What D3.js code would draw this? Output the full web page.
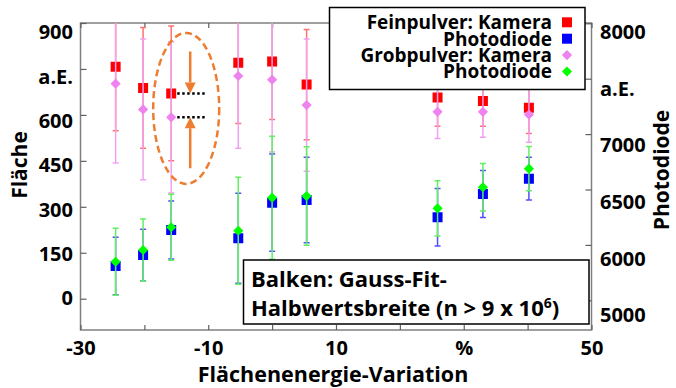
<!DOCTYPE html>
<html>
<head>
<meta charset="utf-8">
<script src="https://cdn.jsdelivr.net/npm/d3@7"></script>
<style>
  body { margin: 0; background: #fff; }
  svg text { font-family: "Open Sans", Lato, sans-serif; font-weight: bold; fill: #000; }
</style>
</head>
<body>
<div id="chart"></div>
<script>
// x positions (Flächenenergie-Variation, %)
var xValues = [-24.5, -20.2, -15.8, -5.3, 0.0, 5.4, 25.9, 33.0, 40.2];

// Feinpulver
var feinKamera    = [757, 688, 670, 770, 774, 699, 657, 645, 623];
var feinKameraErr = [209, 197, 220, 198, 189, 180, 94, 82, 84];
var feinPhoto     = [5810, 5909, 6135, 6060, 6381, 6405, 6249, 6459, 6598];
var feinPhotoErr  = [260, 232, 262, 406, 439, 385, 260, 212, 193];

// Grobpulver
var grobKamera    = [702, 618, 592, 727, 715, 632, 610, 610, 601];
var grobKameraErr = [259, 230, 247, 236, 236, 216, 87, 83, 90];
var grobPhoto     = [5848, 5954, 6159, 6128, 6426, 6441, 6330, 6520, 6688];
var grobPhotoErr  = [302, 280, 298, 483, 555, 444, 250, 214, 199];

// ticks
var xTicks = [-30, -20, -10, 0, 10, 20, 30, 40, 50];
var xTickLabels = ["-30", "", "-10", "", "10", "", "%", "", "50"];
var leftTicks = [900, 750, 600, 450, 300, 150, 0];
var leftTickLabels = ["900", "a.E.", "600", "450", "300", "150", "0"];
var rightTicks = [8000, 7500, 7000, 6500, 6000, 5500];
var rightTickLabels = ["8000", "a.E.", "7000", "6500", "6000", "5000"];

var width = 676, height = 388;
var margin = { top: 23, right: 84.5, bottom: 58, left: 80.5 };
var x0 = margin.left, x1 = width - margin.right, y0 = margin.top, y1 = height - margin.bottom;

var svg = d3.select("#chart").append("svg")
  .attr("width", width)
  .attr("height", height);

var x = d3.scaleLinear().domain([-30, 50]).range([x0, x1]);
var yL = d3.scaleLinear().domain([0, 900]).range([298.7, 23]);
var yR = d3.scaleLinear().domain([5500, 8000]).range([300.3, 23.3]);
// tick labels sit a little off the tick marks in the original
var yLabL = d3.scaleLinear().domain([0, 900]).range([298, 32]);
var yLabR = d3.scaleLinear().domain([5500, 8000]).range([315, 31.7]);

svg.append("clipPath").attr("id", "plotclip")
  .append("rect")
  .attr("x", x0).attr("y", y0)
  .attr("width", x1 - x0).attr("height", y1 - y0);

// frame
svg.append("rect")
  .attr("x", x0).attr("y", y0)
  .attr("width", x1 - x0).attr("height", y1 - y0)
  .attr("fill", "none")
  .attr("stroke", "#808080")
  .attr("stroke-width", 1.5);

var tickColor = "#606060";

// bottom axis
var xAxis = svg.append("g")
  .attr("transform", "translate(0," + y1 + ")")
  .call(d3.axisBottom(x).tickValues(xTicks).tickSize(-5).tickPadding(11)
    .tickFormat(function(d, i) { return xTickLabels[i]; }));
xAxis.select(".domain").remove();
xAxis.selectAll("line").attr("stroke", tickColor).attr("stroke-width", 1.2);
xAxis.selectAll("text").style("font-size", "20px").attr("font-family", null);

// top mirror ticks
var xTop = svg.append("g")
  .attr("transform", "translate(0," + y0 + ")")
  .call(d3.axisTop(x).tickValues(xTicks).tickSize(-5).tickFormat(""));
xTop.select(".domain").remove();
xTop.selectAll("line").attr("stroke", tickColor).attr("stroke-width", 1.2);

// left ticks
var yAxisL = svg.append("g")
  .attr("transform", "translate(" + x0 + ",0)")
  .call(d3.axisLeft(yL).tickValues(leftTicks).tickSize(-6).tickFormat(""));
yAxisL.select(".domain").remove();
yAxisL.selectAll("line").attr("stroke", tickColor).attr("stroke-width", 1.2);

svg.append("g").selectAll("text")
  .data(leftTicks)
  .enter().append("text")
  .attr("x", 73)
  .attr("y", function(d) { return yLabL(d); })
  .attr("dy", "0.36em")
  .attr("text-anchor", "end")
  .style("font-size", "20px")
  .text(function(d, i) { return leftTickLabels[i]; });

// right ticks
var yAxisR = svg.append("g")
  .attr("transform", "translate(" + x1 + ",0)")
  .call(d3.axisRight(yR).tickValues(rightTicks).tickSize(-6).tickFormat(""));
yAxisR.select(".domain").remove();
yAxisR.selectAll("line").attr("stroke", tickColor).attr("stroke-width", 1.2);

svg.append("g").selectAll("text")
  .data(rightTicks)
  .enter().append("text")
  .attr("x", 600)
  .attr("y", function(d) { return yLabR(d); })
  .attr("dy", "0.36em")
  .attr("text-anchor", "start")
  .style("font-size", "20px")
  .text(function(d, i) { return rightTickLabels[i]; });

// axis titles
svg.append("text")
  .attr("transform", "translate(27,165) rotate(-90)")
  .attr("text-anchor", "middle")
  .style("font-size", "21px")
  .text("Fläche");

svg.append("text")
  .attr("transform", "translate(669,170) rotate(-90)")
  .attr("text-anchor", "middle")
  .style("font-size", "21px")
  .text("Photodiode");

svg.append("text")
  .attr("x", 333)
  .attr("y", 381.5)
  .attr("text-anchor", "middle")
  .style("font-size", "21.5px")
  .text("Flächenenergie-Variation");

// series
var series = [
  { name: "fein-kamera", vals: feinKamera, errs: feinKameraErr, y: yL, color: "#ff0000", bar: "#ff7070", shape: "square" },
  { name: "fein-photo", vals: feinPhoto, errs: feinPhotoErr, y: yR, color: "#0000ff", bar: "#5050ff", shape: "square" },
  { name: "grob-kamera", vals: grobKamera, errs: grobKameraErr, y: yL, color: "#ee82ee", bar: "#f0a0f0", shape: "diamond" },
  { name: "grob-photo", vals: grobPhoto, errs: grobPhotoErr, y: yR, color: "#00ff00", bar: "#60f060", shape: "diamond" }
];

var plot = svg.append("g").attr("clip-path", "url(#plotclip)");
var capW = 3;

series.forEach(function(s) {
  var data = xValues.map(function(xv, i) { return { x: xv, v: s.vals[i], e: s.errs[i] }; });
  var g = plot.append("g").attr("class", s.name);

  var bars = g.selectAll(".err").data(data).enter().append("g").attr("class", "err");
  bars.append("line")
    .attr("x1", function(d) { return x(d.x); })
    .attr("x2", function(d) { return x(d.x); })
    .attr("y1", function(d) { return s.y(d.v - d.e); })
    .attr("y2", function(d) { return s.y(d.v + d.e); })
    .attr("stroke", s.bar)
    .attr("stroke-width", 1.5);
  [-1, 1].forEach(function(sign) {
    bars.append("line")
      .attr("x1", function(d) { return x(d.x) - capW; })
      .attr("x2", function(d) { return x(d.x) + capW; })
      .attr("y1", function(d) { return s.y(d.v + sign * d.e); })
      .attr("y2", function(d) { return s.y(d.v + sign * d.e); })
      .attr("stroke", s.bar)
      .attr("stroke-width", 1.5);
  });

  var sym = s.shape == "square"
    ? d3.symbol().type(d3.symbolSquare).size(100)
    : d3.symbol().type(d3.symbolDiamond2).size(66);
  g.selectAll(".pt").data(data).enter().append("path")
    .attr("class", "pt")
    .attr("d", sym)
    .attr("transform", function(d) { return "translate(" + x(d.x) + "," + s.y(d.v) + ")"; })
    .attr("fill", s.color);
});

// annotation: ellipse with arrows on the third point pair
var ax = x(xValues[2]);
var yRed = yL(feinKamera[2]), yPink = yL(grobKamera[2]);
var orange = "#ed7d31";

plot.append("ellipse")
  .attr("cx", ax + 15)
  .attr("cy", (yRed + yPink) / 2 + 3)
  .attr("rx", 33)
  .attr("ry", 75.5)
  .attr("fill", "none")
  .attr("stroke", orange)
  .attr("stroke-width", 2.5)
  .attr("stroke-dasharray", "7,4");

[yRed, yPink].forEach(function(yy) {
  plot.append("line")
    .attr("x1", ax + 6).attr("x2", ax + 36)
    .attr("y1", yy).attr("y2", yy)
    .attr("stroke", "#000")
    .attr("stroke-width", 2.5)
    .attr("stroke-dasharray", "2.5,2.5");
});

var arrowX = ax + 19;
// down arrow to the red line, up arrow to the pink line
[[yRed - 42, yRed], [yPink + 51, yPink]].forEach(function(a) {
  var dir = a[1] > a[0] ? 1 : -1;
  var headBase = a[1] - dir * 11;
  plot.append("line")
    .attr("x1", arrowX).attr("x2", arrowX)
    .attr("y1", a[0]).attr("y2", headBase)
    .attr("stroke", orange)
    .attr("stroke-width", 2.5);
  plot.append("path")
    .attr("d", "M" + (arrowX - 5.5) + "," + headBase + "L" + (arrowX + 5.5) + "," + headBase + "L" + arrowX + "," + a[1] + "Z")
    .attr("fill", orange);
});

// legend
var legend = svg.append("g");
legend.append("rect")
  .attr("x", 329.5).attr("y", 7.5)
  .attr("width", 255.5).attr("height", 82)
  .attr("fill", "#fff")
  .attr("stroke", "#000")
  .attr("stroke-width", 1.5);

var legendItems = ["Feinpulver: Kamera", "Photodiode", "Grobpulver: Kamera", "Photodiode"];
legendItems.forEach(function(label, i) {
  var s = series[i];
  var cy = 22.3 + i * 16.4;
  legend.append("text")
    .attr("x", 552)
    .attr("y", cy)
    .attr("dy", "0.36em")
    .attr("text-anchor", "end")
    .style("font-size", "19px")
    .text(label);
  var sym = s.shape == "square"
    ? d3.symbol().type(d3.symbolSquare).size(100)
    : d3.symbol().type(d3.symbolDiamond2).size(66);
  legend.append("path")
    .attr("d", sym)
    .attr("transform", "translate(567," + cy + ")")
    .attr("fill", s.color);
});

// note box
var note = svg.append("g");
note.append("rect")
  .attr("x", 243.5).attr("y", 260)
  .attr("width", 345.5).attr("height", 64)
  .attr("fill", "#fff")
  .attr("stroke", "#000")
  .attr("stroke-width", 1.5);
note.append("text")
  .attr("x", 251).attr("y", 286.5)
  .style("font-size", "22px")
  .text("Balken: Gauss-Fit-");
var t2 = note.append("text")
  .attr("x", 251).attr("y", 315.5)
  .style("font-size", "22px");
t2.append("tspan").text("Halbwertsbreite (n > 9 x 10");
t2.append("tspan").attr("dy", -8).style("font-size", "14px").text("6");
t2.append("tspan").attr("dy", 8).text(")");
</script>
</body>
</html>
